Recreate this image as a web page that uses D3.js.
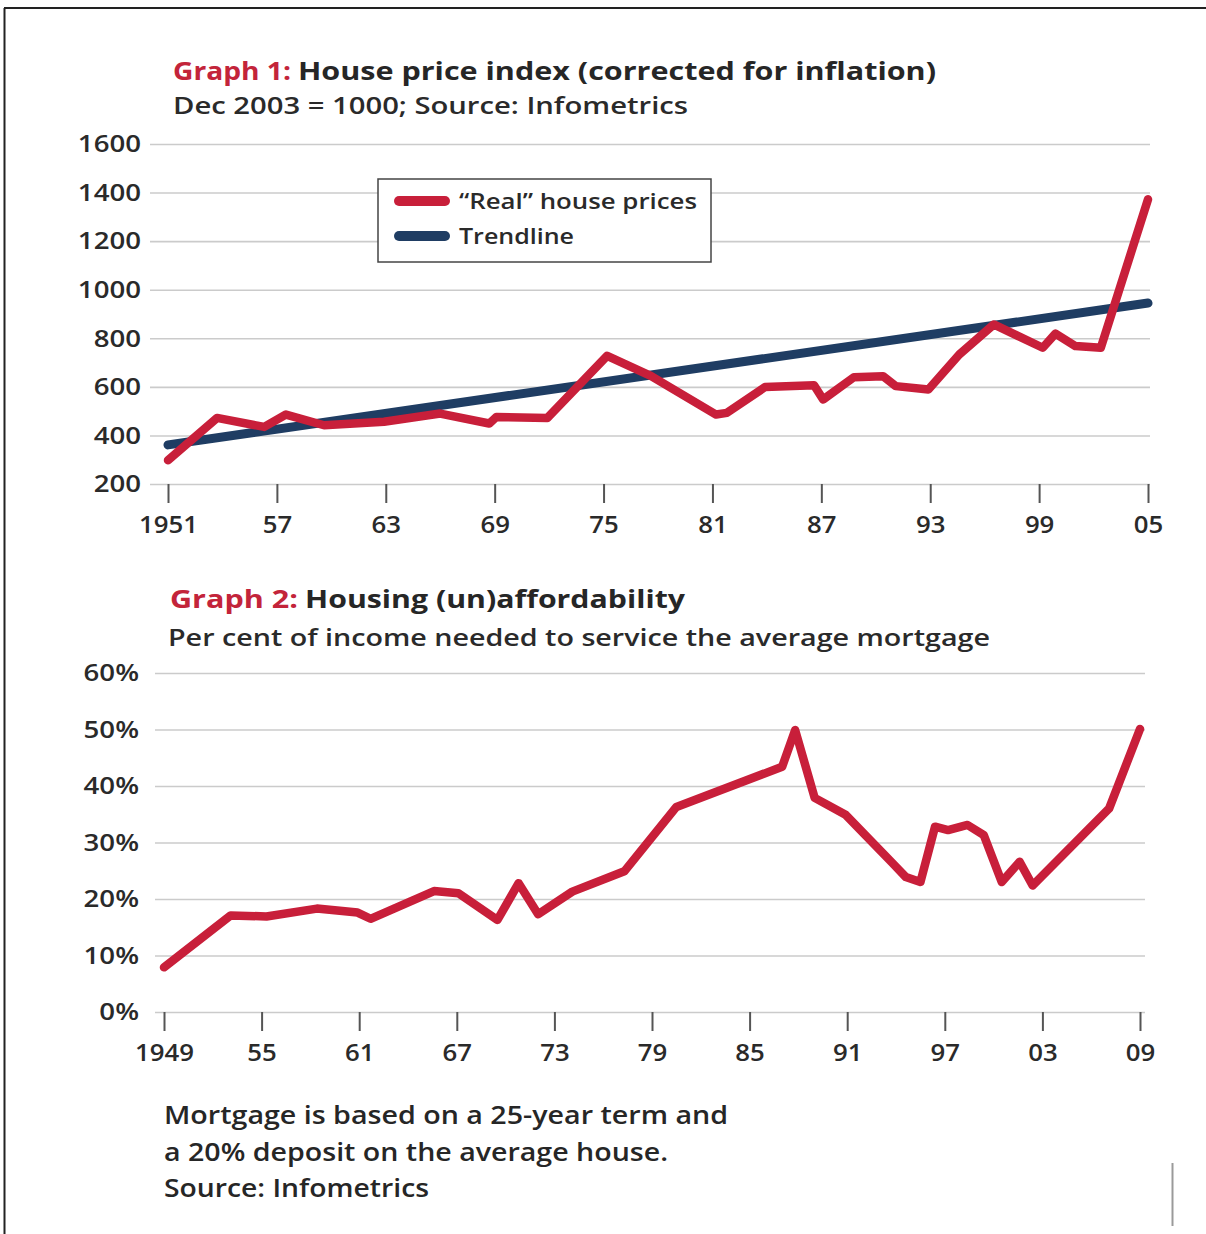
<!DOCTYPE html>
<html>
<head>
<meta charset="utf-8">
<script src="https://cdn.jsdelivr.net/npm/d3@7"></script>
<style>
  html, body { margin: 0; padding: 0; background: #fff; }
  svg { display: block; }
  text { font-family: "Open Sans", "Noto Sans", sans-serif; fill: #2a2a2a; }
</style>
</head>
<body>
<svg id="chart" width="1206" height="1234"></svg>
<script>
// Graph 1: real house price index (Dec 2003 = 1000)
const houseYears = [1951, 1953.7, 1956.3, 1957.5, 1959.6, 1962.9, 1966, 1968.7, 1969.1, 1971.9,
  1975.2, 1977.6, 1981.2, 1981.8, 1983.9, 1986.6, 1987.1, 1988.8, 1990.4, 1991.1,
  1992.9, 1994.6, 1996.5, 1999.2, 1999.9, 2001, 2002.4, 2005];
const houseIndex = [298, 472, 435, 486, 442, 456, 490, 449, 476, 472,
  728, 645, 486, 493, 599, 607, 548, 640, 644, 603,
  589, 733, 857, 761, 819, 768, 761, 1372];
const trendYears = [1951, 2005];
const trendIndex = [361, 945];
const houseTickYears = [1951, 1957, 1963, 1969, 1975, 1981, 1987, 1993, 1999, 2005];
const houseTickLabels = ["1951", "57", "63", "69", "75", "81", "87", "93", "99", "05"];
const houseValueTicks = [200, 400, 600, 800, 1000, 1200, 1400, 1600];

// Graph 2: per cent of income needed to service the average mortgage
const affYears = [1949, 1953.1, 1955.3, 1958.4, 1960.9, 1961.7, 1965.6, 1967.1, 1969.5, 1970.8,
  1972, 1974.1, 1977.3, 1980.5, 1987, 1987.8, 1989, 1990.9, 1993.8, 1994.6,
  1995.5, 1996.4, 1997.2, 1998.4, 1999.4, 2000.5, 2001.6, 2002.4, 2007.1, 2009];
const affPercent = [7.9, 17.1, 16.9, 18.3, 17.6, 16.5, 21.4, 21.0, 16.3, 22.8,
  17.3, 21.3, 24.9, 36.3, 43.4, 49.9, 37.9, 34.9, 26.3, 23.9,
  23.0, 32.8, 32.2, 33.1, 31.3, 23.0, 26.6, 22.4, 36.0, 50.1];
const affTickYears = [1949, 1955, 1961, 1967, 1973, 1979, 1985, 1991, 1997, 2003, 2009];
const affTickLabels = ["1949", "55", "61", "67", "73", "79", "85", "91", "97", "03", "09"];
const affValueTicks = [0, 10, 20, 30, 40, 50, 60];

const legendLabels = ["\u201CReal\u201D house prices", "Trendline"];

const RED = "#c81f3a";
const NAVY = "#1f3d63";
const TITLE_RED = "#c3243a";
const GRID = "#cbcbcb";
const INK = "#2a2a2a";

const svg = d3.select("#chart");

// page frame
svg.append("line").attr("x1", 4).attr("x2", 1206).attr("y1", 8).attr("y2", 8)
  .attr("stroke", "#222").attr("stroke-width", 2);
svg.append("line").attr("x1", 4.5).attr("x2", 4.5).attr("y1", 8).attr("y2", 1234)
  .attr("stroke", "#222").attr("stroke-width", 2);
svg.append("line").attr("x1", 1172.5).attr("x2", 1172.5).attr("y1", 1163).attr("y2", 1226)
  .attr("stroke", "#9a9a9a").attr("stroke-width", 2);

function fitText(sel, width) {
  sel.attr("textLength", width).attr("lengthAdjust", "spacingAndGlyphs");
}

// widen tick labels a little (wide geometric digits)
function widen(sel, factor) {
  sel.each(function () {
    const w = this.getComputedTextLength();
    d3.select(this).attr("textLength", w * factor).attr("lengthAdjust", "spacingAndGlyphs");
  });
}

function heading(x, y, prefix, rest, totalWidth, prefixWidth) {
  const a = svg.append("text").attr("x", x).attr("y", y)
    .attr("font-size", 25).attr("font-weight", 700).style("fill", TITLE_RED).text(prefix);
  fitText(a, prefixWidth);
  const b = svg.append("text").attr("x", x + prefixWidth + 7).attr("y", y)
    .attr("font-size", 25).attr("font-weight", 700).style("fill", "#262626").text(rest);
  fitText(b, totalWidth - prefixWidth - 7);
}

function subheading(x, y, txt, width) {
  const t = svg.append("text").attr("x", x).attr("y", y)
    .attr("font-size", 23).attr("font-weight", 600).style("fill", INK).text(txt);
  fitText(t, width);
}

function drawPanel(cfg) {
  const x = d3.scaleLinear().domain(cfg.xDomain).range(cfg.xRange);
  const y = d3.scaleLinear().domain(cfg.yDomain).range(cfg.yRange);
  const g = svg.append("g");

  // horizontal grid
  g.append("g")
    .attr("transform", `translate(${cfg.gridX0},0)`)
    .call(d3.axisLeft(y).tickValues(cfg.yTicks).tickSize(-(cfg.gridX1 - cfg.gridX0)).tickFormat(""))
    .call(s => s.select(".domain").remove())
    .call(s => s.selectAll("line").attr("stroke", GRID).attr("stroke-width", 1.6));

  // y labels
  const yl = g.selectAll("text.ylab").data(cfg.yTicks).enter().append("text")
    .attr("class", "ylab")
    .attr("x", cfg.yLabelX).attr("y", d => y(d)).attr("dy", "0.36em")
    .attr("text-anchor", "end").attr("font-size", 23).attr("font-weight", 600)
    .style("fill", INK)
    .text(cfg.yFormat);
  widen(yl, 1.2);

  // x axis ticks
  const xa = g.append("g")
    .attr("transform", `translate(0,${y(cfg.yDomain[0])})`)
    .call(d3.axisBottom(x).tickValues(cfg.xTicks).tickSize(19)
      .tickFormat((d, i) => cfg.xLabels[i]));
  xa.select(".domain").remove();
  xa.selectAll("line").attr("stroke", "#555").attr("stroke-width", 2);
  const xl = xa.selectAll("text").attr("font-size", 23).attr("font-weight", 600)
    .attr("y", 33).attr("dy", "0.71em").style("fill", INK)
    .style("font-family", '"Open Sans", "Noto Sans", sans-serif');
  widen(xl, 1.12);

  return { x, y, g };
}

// ---------- Graph 1 ----------
heading(173, 80, "Graph 1:", "House price index (corrected for inflation)", 763, 118);
subheading(173, 114, "Dec 2003 = 1000; Source: Infometrics", 515);

const p1 = drawPanel({
  xDomain: [1951, 2005], xRange: [168, 1148],
  yDomain: [200, 1600], yRange: [484, 144],
  gridX0: 150, gridX1: 1150,
  yTicks: houseValueTicks, yLabelX: 141, yFormat: d => d,
  xTicks: houseTickYears, xLabels: houseTickLabels
});

const trendLine = d3.line().x((d, i) => p1.x(trendYears[i])).y(d => p1.y(d));
p1.g.append("path").datum(trendIndex)
  .attr("d", trendLine).attr("fill", "none")
  .attr("stroke", NAVY).attr("stroke-width", 9).attr("stroke-linecap", "round");

const houseLine = d3.line().x((d, i) => p1.x(houseYears[i])).y(d => p1.y(d));
p1.g.append("path").datum(houseIndex)
  .attr("d", houseLine).attr("fill", "none")
  .attr("stroke", RED).attr("stroke-width", 8.5)
  .attr("stroke-linejoin", "round").attr("stroke-linecap", "round");

// legend
const lg = svg.append("g").attr("transform", "translate(378,179)");
lg.append("rect").attr("width", 333).attr("height", 83)
  .attr("fill", "#fff").attr("stroke", "#444").attr("stroke-width", 1.5);
[RED, NAVY].forEach((c, i) => {
  lg.append("line").attr("x1", 21).attr("x2", 67)
    .attr("y1", 22 + i * 35).attr("y2", 22 + i * 35)
    .attr("stroke", c).attr("stroke-width", 10).attr("stroke-linecap", "round");
  const t = lg.append("text").attr("x", 81).attr("y", 30 + i * 35)
    .attr("font-size", 22).attr("font-weight", 600).style("fill", INK).text(legendLabels[i]);
  fitText(t, i === 0 ? 238 : 115);
});

// ---------- Graph 2 ----------
heading(170, 608, "Graph 2:", "Housing (un)affordability", 515, 128);
subheading(168, 646, "Per cent of income needed to service the average mortgage", 822);

const p2 = drawPanel({
  xDomain: [1949, 2009], xRange: [164, 1140],
  yDomain: [0, 60], yRange: [1012, 673],
  gridX0: 155, gridX1: 1145,
  yTicks: affValueTicks, yLabelX: 139, yFormat: d => d + "%",
  xTicks: affTickYears, xLabels: affTickLabels
});

const affLine = d3.line().x((d, i) => p2.x(affYears[i])).y(d => p2.y(d));
p2.g.append("path").datum(affPercent)
  .attr("d", affLine).attr("fill", "none")
  .attr("stroke", RED).attr("stroke-width", 8.5)
  .attr("stroke-linejoin", "round").attr("stroke-linecap", "round");

// footnote
const notes = [
  ["Mortgage is based on a 25-year term and", 564],
  ["a 20% deposit on the average house.", 504],
  ["Source: Infometrics", 265]
];
notes.forEach((n, i) => {
  const t = svg.append("text").attr("x", 164).attr("y", 1124 + i * 36.5)
    .attr("font-size", 25).attr("font-weight", 600).style("fill", "#262626").text(n[0]);
  fitText(t, n[1]);
});
</script>
</body>
</html>
